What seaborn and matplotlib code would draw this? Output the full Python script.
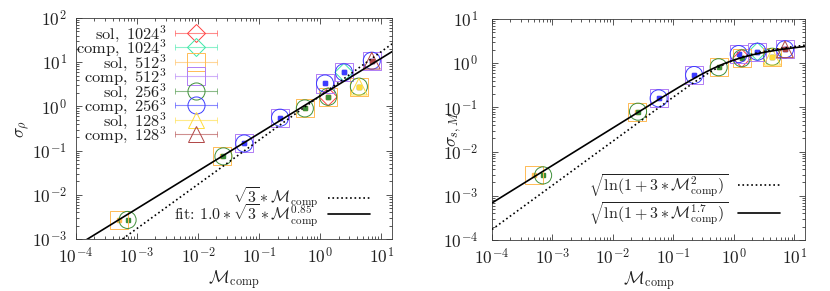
import numpy as np
import pandas as pd
import matplotlib
matplotlib.use("Agg")
import matplotlib.pyplot as plt
import seaborn as sns
from matplotlib.container import ErrorbarContainer
from matplotlib.legend_handler import HandlerErrorbar

# ---------------- data ----------------
series_labels = [r"$\mathrm{sol,}\ 1024^3$", r"$\mathrm{comp,}\ 1024^3$",
                 r"$\mathrm{sol,}\ 512^3$", r"$\mathrm{comp,}\ 512^3$",
                 r"$\mathrm{sol,}\ 256^3$", r"$\mathrm{comp,}\ 256^3$",
                 r"$\mathrm{sol,}\ 128^3$", r"$\mathrm{comp,}\ 128^3$"]

M_sol1024 = [1.35]
rho_sol1024 = [1.65]
s_sol1024 = [1.29]

M_comp1024 = [2.45]
rho_comp1024 = [5.9]
s_comp1024 = [1.82]

M_sol512 = [5.0e-4, 0.025, 0.56, 1.35, 4.3]
rho_sol512 = [2.7e-3, 0.074, 0.90, 1.65, 2.8]
s_sol512 = [2.9e-3, 0.080, 0.81, 1.29, 1.40]

M_comp512 = [0.057, 0.22, 1.2, 2.45, 7.0]
rho_comp512 = [0.145, 0.555, 3.3, 5.9, 10.8]
s_comp512 = [0.16, 0.54, 1.61, 1.82, 2.06]

M_sol256 = [7.0e-4, 0.026, 0.56, 1.35, 4.3]
rho_sol256 = [2.7e-3, 0.074, 0.90, 1.65, 2.8]
s_sol256 = [2.9e-3, 0.080, 0.81, 1.29, 1.40]

M_comp256 = [0.057, 0.22, 1.2, 2.45, 7.0]
rho_comp256 = [0.145, 0.555, 3.3, 5.9, 10.8]
s_comp256 = [0.16, 0.54, 1.61, 1.82, 2.06]

M_sol128 = [4.3]
rho_sol128 = [2.8]
s_sol128 = [1.40]

M_comp128 = [7.0]
rho_comp128 = [10.8]
s_comp128 = [2.06]

# model curves shown in the legends
b_rho = 1.0
exp_rho_fit = 0.85
exp_s_fit = 1.7
M_range = (1e-4, 15.0)

x_ticks = [1e-4, 1e-3, 1e-2, 1e-1, 1e0, 1e1]
x_ticklabels = [r"$10^{-4}$", r"$10^{-3}$", r"$10^{-2}$", r"$10^{-1}$", r"$10^{0}$", r"$10^{1}$"]
y1_ticks = [1e-3, 1e-2, 1e-1, 1e0, 1e1, 1e2]
y1_ticklabels = [r"$10^{-3}$", r"$10^{-2}$", r"$10^{-1}$", r"$10^{0}$", r"$10^{1}$", r"$10^{2}$"]
y2_ticks = [1e-4, 1e-3, 1e-2, 1e-1, 1e0, 1e1]
y2_ticklabels = [r"$10^{-4}$", r"$10^{-3}$", r"$10^{-2}$", r"$10^{-1}$", r"$10^{0}$", r"$10^{1}$"]

# ---------------- style ----------------
colors = ["#ff4040", "#3ee8a8", "#ffbb55", "#b07cf5", "#3f8f3a", "#3c3cff", "#ffdc3c", "#b04545"]
markers = ["D", "D", "s", "s", "o", "o", "^", "^"]
msizes = [9.2, 9.2, 13.0, 13.0, 12.3, 12.3, 12.0, 12.0]   # points
FS = 12.5
FS_LEG = 11.8
FS_LINE = 11.5

sns.set_theme(style="ticks")
plt.rcParams.update({
    "mathtext.fontset": "cm",
    "font.family": ["cmr10", "DejaVu Serif"],
    "axes.formatter.use_mathtext": True,
    "font.size": FS,
    "axes.edgecolor": "#3a3a3a",
    "axes.linewidth": 0.6,
    "xtick.color": "#3a3a3a",
    "ytick.color": "#3a3a3a",
    "xtick.labelcolor": "#222222",
    "ytick.labelcolor": "#222222",
    "text.color": "#222222",
    "axes.labelcolor": "#222222",
})

fig = plt.figure(figsize=(8.3, 2.91), dpi=100)
ax1 = fig.add_axes([76 / 830, 52 / 291, 316 / 830, 221 / 291])
ax2 = fig.add_axes([492 / 830, 51 / 291, 313 / 830, 221 / 291])

Ms = [M_sol1024, M_comp1024, M_sol512, M_comp512, M_sol256, M_comp256, M_sol128, M_comp128]
rhos = [rho_sol1024, rho_comp1024, rho_sol512, rho_comp512, rho_sol256, rho_comp256, rho_sol128, rho_comp128]
ss = [s_sol1024, s_comp1024, s_sol512, s_comp512, s_sol256, s_comp256, s_sol128, s_comp128]

for ax in (ax1, ax2):
    ax.set_xscale("log")
    ax.set_yscale("log")

rel_err = 0.08
for ax, ys in ((ax1, rhos), (ax2, ss)):
    for M, y, c, mk, ms in zip(Ms, ys, colors, markers, msizes):
        df = pd.DataFrame({"M": M, "y": y})
        ax.errorbar(df["M"], df["y"], yerr=rel_err * df["y"], fmt="s", ms=2.3,
                    color=c, mfc=c, mec=c, elinewidth=0.6, capsize=1.0, capthick=0.6, zorder=3)
        sns.scatterplot(data=df, x="M", y="y", ax=ax, marker=mk, s=ms ** 2,
                        facecolor="none", edgecolor=c, linewidth=0.7, zorder=4, legend=False)

M_line = np.logspace(np.log10(M_range[0]), np.log10(M_range[1]), 300)
sns.lineplot(x=M_line, y=np.sqrt(3) * M_line, ax=ax1, color="black", linestyle=":",
             linewidth=1.2, estimator=None, sort=False, legend=False, zorder=5)
l1_dot = ax1.lines[-1]
sns.lineplot(x=M_line, y=b_rho * np.sqrt(3) * M_line ** exp_rho_fit, ax=ax1, color="black",
             linewidth=1.2, estimator=None, sort=False, legend=False, zorder=5)
l1_sol = ax1.lines[-1]
sns.lineplot(x=M_line, y=np.sqrt(np.log(1 + 3 * M_line ** 2)), ax=ax2, color="black",
             linestyle=":", linewidth=1.2, estimator=None, sort=False, legend=False, zorder=5)
l2_dot = ax2.lines[-1]
sns.lineplot(x=M_line, y=np.sqrt(np.log(1 + 3 * M_line ** exp_s_fit)), ax=ax2, color="black",
             linewidth=1.2, estimator=None, sort=False, legend=False, zorder=5)
l2_sol = ax2.lines[-1]

# legend proxies (markers with horizontal error bars)
proxies = []
for lab, c, mk, ms in zip(series_labels, colors, markers, msizes):
    h = ax1.errorbar([np.nan], [np.nan], xerr=[1.0], fmt=mk, ms=ms, mfc="none", mec=c, mew=0.7,
                     ecolor=c, elinewidth=0.8, capsize=2.0, capthick=0.8, label=lab)
    h[2][0].set_alpha(0.6)
    for cap in h[1]:
        cap.set_alpha(0.6)
    proxies.append(h)

leg1 = ax1.legend(handles=proxies, labels=series_labels, loc="upper left",
                  bbox_to_anchor=(0.0, 0.976), frameon=False, markerfirst=False,
                  handlelength=2.62, handletextpad=0.45, labelspacing=-0.38, borderpad=0,
                  borderaxespad=0, fontsize=FS_LEG,
                  handler_map={ErrorbarContainer: HandlerErrorbar(xerr_size=1.31)})
ax1.add_artist(leg1)
ax1.legend(handles=[l1_dot, l1_sol],
           labels=[r"$\sqrt{3} * \mathcal{M}_\mathrm{comp}$",
                   r"fit: $1.0 * \sqrt{3} * \mathcal{M}_\mathrm{comp}^{0.85}$"],
           loc="lower right", bbox_to_anchor=(0.93, 0.05), frameon=False, markerfirst=False,
           handlelength=2.62, handletextpad=0.62, labelspacing=-0.52, borderpad=0,
           borderaxespad=0, fontsize=FS_LINE)
ax2.legend(handles=[l2_dot, l2_sol],
           labels=[r"$\sqrt{\ln(1 + 3 * \mathcal{M}_\mathrm{comp}^2)}$",
                   r"$\sqrt{\ln(1 + 3 * \mathcal{M}_\mathrm{comp}^{1.7})}$"],
           loc="lower right", bbox_to_anchor=(0.92, 0.06), frameon=False, markerfirst=False,
           handlelength=2.62, handletextpad=0.62, labelspacing=0.08, borderpad=0,
           borderaxespad=0, fontsize=FS_LINE)

for ax, yt, ytl, ylim, ylab, ypad, ylx in (
        (ax1, y1_ticks, y1_ticklabels, (1e-3, 1e2), r"$\sigma_\rho$", 6.5, -0.14),
        (ax2, y2_ticks, y2_ticklabels, (1e-4, 1e1), r"$\sigma_{s,M}$", 10, -0.089)):
    ax.set_xlim(*M_range)
    ax.set_ylim(*ylim)
    ax.set_xticks(x_ticks, labels=x_ticklabels)
    ax.set_yticks(yt, labels=ytl)
    ax.xaxis.set_minor_locator(matplotlib.ticker.LogLocator(base=10, subs=np.arange(2, 10), numticks=20))
    ax.yaxis.set_minor_locator(matplotlib.ticker.LogLocator(base=10, subs=np.arange(2, 10), numticks=20))
    ax.xaxis.set_minor_formatter(matplotlib.ticker.NullFormatter())
    ax.yaxis.set_minor_formatter(matplotlib.ticker.NullFormatter())
    ax.tick_params(which="both", direction="in", top=True, right=True, width=0.6)
    ax.tick_params(which="major", length=4.5, labelsize=FS)
    ax.tick_params(which="minor", length=2.3)
    ax.tick_params(axis="x", which="major", pad=5)
    ax.tick_params(axis="y", which="major", pad=ypad)
    ax.set_xlabel(r"$\mathcal{M}_\mathrm{comp}$", fontsize=FS)
    ax.set_ylabel(ylab, fontsize=FS)
    ax.xaxis.set_label_coords(0.5, -0.13)
    ax.yaxis.set_label_coords(ylx, 0.5)

fig.savefig("out.png", dpi=100)
